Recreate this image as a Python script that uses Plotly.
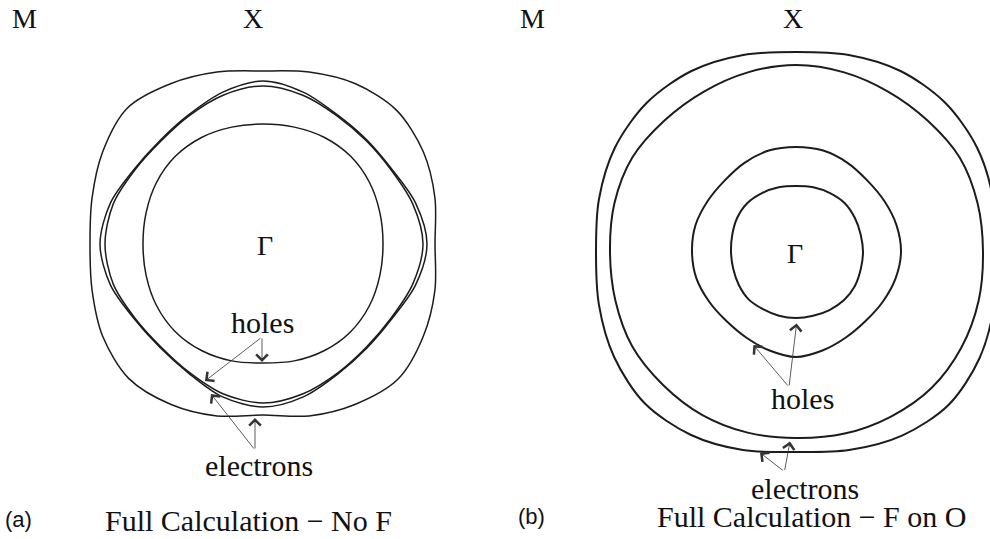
import numpy as np
import plotly.graph_objects as go

# polar sampling of the Fermi-surface contours (deg, counter-clockwise from +kx)
angles = [0, 15, 30, 45, 60, 75, 90, 105, 120, 135, 150, 165,
          180, 195, 210, 225, 240, 255, 270, 285, 300, 315, 330, 345]

# (a) Full calculation - no F   (radii in arb. k units, Gamma-X ~ 1.13)
a_outer = [0.86, 0.89, 0.925, 0.945, 0.925, 0.89, 0.865, 0.89, 0.925, 0.96, 0.925, 0.885,
           0.865, 0.885, 0.925, 0.95, 0.925, 0.89, 0.855, 0.89, 0.925, 0.955, 0.925, 0.89]
a_pair_1 = [0.82, 0.79, 0.745, 0.735, 0.745, 0.785, 0.815, 0.785, 0.745, 0.73, 0.745, 0.79,
            0.815, 0.79, 0.745, 0.73, 0.745, 0.79, 0.815, 0.79, 0.75, 0.735, 0.745, 0.79]
a_pair_2 = [0.80, 0.775, 0.74, 0.73, 0.74, 0.77, 0.79, 0.77, 0.74, 0.725, 0.74, 0.775,
            0.79, 0.775, 0.74, 0.725, 0.74, 0.775, 0.795, 0.775, 0.745, 0.73, 0.74, 0.775]
a_inner = [0.60, 0.605, 0.615, 0.62, 0.615, 0.605, 0.60, 0.605, 0.615, 0.62, 0.615, 0.605,
           0.60, 0.605, 0.615, 0.62, 0.615, 0.605, 0.595, 0.605, 0.615, 0.62, 0.615, 0.605]

# (b) Full calculation - F on O
b_outer = [0.995, 1.02, 1.045, 1.055, 1.045, 1.02, 1.0, 1.02, 1.045, 1.055, 1.045, 1.02,
           1.0, 1.02, 1.05, 1.07, 1.055, 1.025, 1.0, 1.025, 1.06, 1.08, 1.06, 1.025]
b_second = [0.935, 0.94, 0.945, 0.93, 0.925, 0.93, 0.935, 0.93, 0.925, 0.93, 0.945, 0.94,
            0.93, 0.935, 0.945, 0.94, 0.94, 0.935, 0.93, 0.94, 0.95, 0.96, 0.955, 0.945]
b_third = [0.525, 0.52, 0.51, 0.505, 0.515, 0.525, 0.525, 0.525, 0.515, 0.505, 0.51, 0.52,
           0.52, 0.515, 0.50, 0.49, 0.495, 0.51, 0.525, 0.51, 0.495, 0.49, 0.50, 0.515]
b_inner = [0.335, 0.335, 0.34, 0.345, 0.34, 0.335, 0.33, 0.335, 0.34, 0.345, 0.34, 0.33,
           0.325, 0.325, 0.33, 0.335, 0.33, 0.33, 0.33, 0.33, 0.335, 0.34, 0.34, 0.335]

line_color = "#1c1c1c"
serif = "Liberation Serif"
sans = "Liberation Sans"


def contour(radii, xa, ya, width):
    th = np.deg2rad(angles + [angles[0]])
    r = np.array(radii + [radii[0]])
    return go.Scatter(x=r * np.cos(th), y=r * np.sin(th), mode="lines",
                      line=dict(color=line_color, width=width, shape="spline", smoothing=0.9),
                      xaxis=xa, yaxis=ya, hoverinfo="skip")


fig = go.Figure()
for rr in (a_outer, a_pair_1, a_pair_2, a_inner):
    fig.add_trace(contour(rr, "x", "y", 1.5))
for rr in (b_outer, b_second, b_third, b_inner):
    fig.add_trace(contour(rr, "x2", "y2", 2))

annotations = []


def label(text, x, y, xr, yr, size=28, family=serif):
    annotations.append(dict(text=text, x=x, y=y, xref=xr, yref=yr, showarrow=False,
                            xanchor="center", yanchor="middle",
                            font=dict(family=family, size=size, color="#111")))


def arrow(x, y, ax, ay, xr, yr):
    annotations.append(dict(text="", x=x, y=y, ax=ax, ay=ay, xref=xr, yref=yr,
                            axref=xr, ayref=yr, showarrow=True, arrowhead=4,
                            arrowsize=2.8, arrowwidth=0.8, arrowcolor="#333", standoff=0))


# panel (a)
label("M", -1.195, 1.13, "x", "y")
label("X", -0.05, 1.13, "x", "y")
label("Γ", 0.01, -0.005, "x", "y")
label("holes", -0.005, -0.39, "x", "y", 30)
label("electrons", -0.02, -1.105, "x", "y", 30)
arrow(-0.005, -0.59, -0.005, -0.465, "x", "y")
arrow(-0.29, -0.685, -0.005, -0.465, "x", "y")
arrow(-0.04, -0.87, -0.04, -1.03, "x", "y")
arrow(-0.26, -0.75, -0.04, -1.03, "x", "y")

# panel (b)
label("M", -1.32, 1.17, "x2", "y2")
label("X", -0.015, 1.17, "x2", "y2")
label("Γ", -0.005, -0.005, "x2", "y2")
label("holes", 0.03, -0.73, "x2", "y2", 30)
label("electrons", 0.045, -1.18, "x2", "y2", 30)
arrow(0.003, -0.357, -0.035, -0.675, "x2", "y2")
arrow(-0.213, -0.465, -0.035, -0.675, "x2", "y2")
arrow(-0.03, -0.948, -0.058, -1.098, "x2", "y2")
arrow(-0.18, -1.003, -0.058, -1.098, "x2", "y2")

# captions
label("Full Calculation − No F", 0.2515, 0.035, "paper", "paper", 30)
label("Full Calculation − F on O", 0.820, 0.041, "paper", "paper", 30)
label("(a)", 0.019, 0.036, "paper", "paper", 22, sans)
label("(b)", 0.537, 0.041, "paper", "paper", 22, sans)

ax_style = dict(visible=False, showgrid=False, zeroline=False, fixedrange=True)
fig.update_layout(
    width=990, height=539,
    margin=dict(l=0, r=0, t=0, b=0),
    paper_bgcolor="white", plot_bgcolor="white",
    showlegend=False,
    xaxis=dict(domain=[0, 0.5], range=[-1.315, 1.16], **ax_style),
    yaxis=dict(domain=[0, 1], range=[-1.475, 1.22], **ax_style),
    xaxis2=dict(domain=[0.5, 1], range=[-1.505, 0.97], anchor="y2", **ax_style),
    yaxis2=dict(domain=[0, 1], range=[-1.435, 1.26], anchor="x2", **ax_style),
    annotations=annotations,
)

fig.write_html("out.html", config={"displayModeBar": False},
               post_script="document.body.style.margin='0';")
